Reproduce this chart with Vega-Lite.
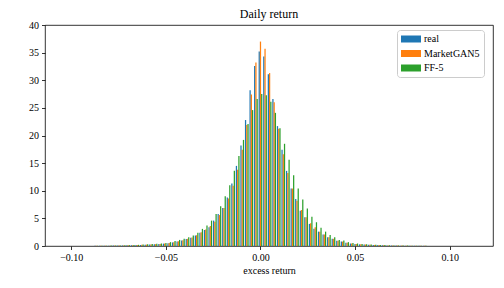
{
  "$schema": "https://vega.github.io/schema/vega-lite/v6.json",
  "width": 448,
  "height": 221,
  "autosize": "none",
  "padding": {"left": 45, "top": 25, "right": 11, "bottom": 42},
  "background": "white",
  "title": {"text": "Daily return", "font": "Liberation Serif", "fontSize": 12, "fontWeight": "normal", "color": "black", "offset": -1, "anchor": "middle"},
  "config": {"view": {"stroke": "black", "strokeWidth": 0.8}, "font": "Liberation Serif"},
  "data": {"values": [
    {"ret": -0.08676, "model": "real", "density": 0.03}, {"ret": -0.08676, "model": "MarketGAN5", "density": 0.03}, {"ret": -0.08676, "model": "FF-5", "density": 0.04},
    {"ret": -0.08435, "model": "real", "density": 0.04}, {"ret": -0.08435, "model": "MarketGAN5", "density": 0.04}, {"ret": -0.08435, "model": "FF-5", "density": 0.05},
    {"ret": -0.08194, "model": "real", "density": 0.05}, {"ret": -0.08194, "model": "MarketGAN5", "density": 0.05}, {"ret": -0.08194, "model": "FF-5", "density": 0.06},
    {"ret": -0.07953, "model": "real", "density": 0.06}, {"ret": -0.07953, "model": "MarketGAN5", "density": 0.06}, {"ret": -0.07953, "model": "FF-5", "density": 0.07},
    {"ret": -0.07712, "model": "real", "density": 0.07}, {"ret": -0.07712, "model": "MarketGAN5", "density": 0.07}, {"ret": -0.07712, "model": "FF-5", "density": 0.09},
    {"ret": -0.07471, "model": "real", "density": 0.08}, {"ret": -0.07471, "model": "MarketGAN5", "density": 0.09}, {"ret": -0.07471, "model": "FF-5", "density": 0.11},
    {"ret": -0.0723, "model": "real", "density": 0.1}, {"ret": -0.0723, "model": "MarketGAN5", "density": 0.1}, {"ret": -0.0723, "model": "FF-5", "density": 0.13},
    {"ret": -0.06989, "model": "real", "density": 0.12}, {"ret": -0.06989, "model": "MarketGAN5", "density": 0.12}, {"ret": -0.06989, "model": "FF-5", "density": 0.15},
    {"ret": -0.06748, "model": "real", "density": 0.14}, {"ret": -0.06748, "model": "MarketGAN5", "density": 0.15}, {"ret": -0.06748, "model": "FF-5", "density": 0.18},
    {"ret": -0.06507, "model": "real", "density": 0.17}, {"ret": -0.06507, "model": "MarketGAN5", "density": 0.18}, {"ret": -0.06507, "model": "FF-5", "density": 0.21},
    {"ret": -0.06266, "model": "real", "density": 0.2}, {"ret": -0.06266, "model": "MarketGAN5", "density": 0.21}, {"ret": -0.06266, "model": "FF-5", "density": 0.25},
    {"ret": -0.06025, "model": "real", "density": 0.24}, {"ret": -0.06025, "model": "MarketGAN5", "density": 0.25}, {"ret": -0.06025, "model": "FF-5", "density": 0.3},
    {"ret": -0.05784, "model": "real", "density": 0.28}, {"ret": -0.05784, "model": "MarketGAN5", "density": 0.29}, {"ret": -0.05784, "model": "FF-5", "density": 0.35},
    {"ret": -0.05543, "model": "real", "density": 0.32}, {"ret": -0.05543, "model": "MarketGAN5", "density": 0.33}, {"ret": -0.05543, "model": "FF-5", "density": 0.4},
    {"ret": -0.05302, "model": "real", "density": 0.37}, {"ret": -0.05302, "model": "MarketGAN5", "density": 0.38}, {"ret": -0.05302, "model": "FF-5", "density": 0.46},
    {"ret": -0.05061, "model": "real", "density": 0.43}, {"ret": -0.05061, "model": "MarketGAN5", "density": 0.45}, {"ret": -0.05061, "model": "FF-5", "density": 0.55},
    {"ret": -0.0482, "model": "real", "density": 0.5}, {"ret": -0.0482, "model": "MarketGAN5", "density": 0.55}, {"ret": -0.0482, "model": "FF-5", "density": 0.7},
    {"ret": -0.04579, "model": "real", "density": 0.65}, {"ret": -0.04579, "model": "MarketGAN5", "density": 0.7}, {"ret": -0.04579, "model": "FF-5", "density": 0.9},
    {"ret": -0.04338, "model": "real", "density": 0.8}, {"ret": -0.04338, "model": "MarketGAN5", "density": 0.85}, {"ret": -0.04338, "model": "FF-5", "density": 1.1},
    {"ret": -0.04097, "model": "real", "density": 1.0}, {"ret": -0.04097, "model": "MarketGAN5", "density": 1.05}, {"ret": -0.04097, "model": "FF-5", "density": 1.3},
    {"ret": -0.03856, "model": "real", "density": 1.25}, {"ret": -0.03856, "model": "MarketGAN5", "density": 1.3}, {"ret": -0.03856, "model": "FF-5", "density": 1.6},
    {"ret": -0.03615, "model": "real", "density": 1.5}, {"ret": -0.03615, "model": "MarketGAN5", "density": 1.55}, {"ret": -0.03615, "model": "FF-5", "density": 1.9},
    {"ret": -0.03374, "model": "real", "density": 1.9}, {"ret": -0.03374, "model": "MarketGAN5", "density": 1.95}, {"ret": -0.03374, "model": "FF-5", "density": 2.4},
    {"ret": -0.03133, "model": "real", "density": 2.4}, {"ret": -0.03133, "model": "MarketGAN5", "density": 2.5}, {"ret": -0.03133, "model": "FF-5", "density": 3.1},
    {"ret": -0.02892, "model": "real", "density": 2.9}, {"ret": -0.02892, "model": "MarketGAN5", "density": 3.0}, {"ret": -0.02892, "model": "FF-5", "density": 3.7},
    {"ret": -0.02651, "model": "real", "density": 3.4}, {"ret": -0.02651, "model": "MarketGAN5", "density": 3.6}, {"ret": -0.02651, "model": "FF-5", "density": 4.6},
    {"ret": -0.0241, "model": "real", "density": 4.6}, {"ret": -0.0241, "model": "MarketGAN5", "density": 4.4}, {"ret": -0.0241, "model": "FF-5", "density": 5.8},
    {"ret": -0.02169, "model": "real", "density": 5.8}, {"ret": -0.02169, "model": "MarketGAN5", "density": 5.6}, {"ret": -0.02169, "model": "FF-5", "density": 7.2},
    {"ret": -0.01928, "model": "real", "density": 6.9}, {"ret": -0.01928, "model": "MarketGAN5", "density": 6.9}, {"ret": -0.01928, "model": "FF-5", "density": 9.0},
    {"ret": -0.01687, "model": "real", "density": 8.8}, {"ret": -0.01687, "model": "MarketGAN5", "density": 8.6}, {"ret": -0.01687, "model": "FF-5", "density": 11.0},
    {"ret": -0.01446, "model": "real", "density": 11.3}, {"ret": -0.01446, "model": "MarketGAN5", "density": 10.9}, {"ret": -0.01446, "model": "FF-5", "density": 13.6},
    {"ret": -0.01205, "model": "real", "density": 14.5}, {"ret": -0.01205, "model": "MarketGAN5", "density": 13.8}, {"ret": -0.01205, "model": "FF-5", "density": 16.3},
    {"ret": -0.00964, "model": "real", "density": 18.2}, {"ret": -0.00964, "model": "MarketGAN5", "density": 17.4}, {"ret": -0.00964, "model": "FF-5", "density": 19.2},
    {"ret": -0.00723, "model": "real", "density": 22.8}, {"ret": -0.00723, "model": "MarketGAN5", "density": 21.9}, {"ret": -0.00723, "model": "FF-5", "density": 22.1},
    {"ret": -0.00482, "model": "real", "density": 28.2}, {"ret": -0.00482, "model": "MarketGAN5", "density": 27.4}, {"ret": -0.00482, "model": "FF-5", "density": 24.6},
    {"ret": -0.00241, "model": "real", "density": 32.6}, {"ret": -0.00241, "model": "MarketGAN5", "density": 33.2}, {"ret": -0.00241, "model": "FF-5", "density": 26.6},
    {"ret": 0.0, "model": "real", "density": 35.2}, {"ret": 0.0, "model": "MarketGAN5", "density": 37.0}, {"ret": 0.0, "model": "FF-5", "density": 27.5},
    {"ret": 0.00241, "model": "real", "density": 34.3}, {"ret": 0.00241, "model": "MarketGAN5", "density": 35.7}, {"ret": 0.00241, "model": "FF-5", "density": 27.3},
    {"ret": 0.00482, "model": "real", "density": 31.1}, {"ret": 0.00482, "model": "MarketGAN5", "density": 31.3}, {"ret": 0.00482, "model": "FF-5", "density": 26.1},
    {"ret": 0.00723, "model": "real", "density": 26.6}, {"ret": 0.00723, "model": "MarketGAN5", "density": 26.0}, {"ret": 0.00723, "model": "FF-5", "density": 24.1},
    {"ret": 0.00964, "model": "real", "density": 21.7}, {"ret": 0.00964, "model": "MarketGAN5", "density": 21.2}, {"ret": 0.00964, "model": "FF-5", "density": 21.3},
    {"ret": 0.01205, "model": "real", "density": 17.4}, {"ret": 0.01205, "model": "MarketGAN5", "density": 16.6}, {"ret": 0.01205, "model": "FF-5", "density": 18.5},
    {"ret": 0.01446, "model": "real", "density": 13.6}, {"ret": 0.01446, "model": "MarketGAN5", "density": 13.2}, {"ret": 0.01446, "model": "FF-5", "density": 15.6},
    {"ret": 0.01687, "model": "real", "density": 10.4}, {"ret": 0.01687, "model": "MarketGAN5", "density": 10.4}, {"ret": 0.01687, "model": "FF-5", "density": 12.8},
    {"ret": 0.01928, "model": "real", "density": 8.5}, {"ret": 0.01928, "model": "MarketGAN5", "density": 8.2}, {"ret": 0.01928, "model": "FF-5", "density": 10.4},
    {"ret": 0.02169, "model": "real", "density": 6.4}, {"ret": 0.02169, "model": "MarketGAN5", "density": 6.5}, {"ret": 0.02169, "model": "FF-5", "density": 8.4},
    {"ret": 0.0241, "model": "real", "density": 5.2}, {"ret": 0.0241, "model": "MarketGAN5", "density": 5.2}, {"ret": 0.0241, "model": "FF-5", "density": 6.8},
    {"ret": 0.02651, "model": "real", "density": 4.0}, {"ret": 0.02651, "model": "MarketGAN5", "density": 4.1}, {"ret": 0.02651, "model": "FF-5", "density": 5.3},
    {"ret": 0.02892, "model": "real", "density": 3.1}, {"ret": 0.02892, "model": "MarketGAN5", "density": 3.4}, {"ret": 0.02892, "model": "FF-5", "density": 4.3},
    {"ret": 0.03133, "model": "real", "density": 2.6}, {"ret": 0.03133, "model": "MarketGAN5", "density": 2.6}, {"ret": 0.03133, "model": "FF-5", "density": 3.3},
    {"ret": 0.03374, "model": "real", "density": 2.1}, {"ret": 0.03374, "model": "MarketGAN5", "density": 2.1}, {"ret": 0.03374, "model": "FF-5", "density": 2.6},
    {"ret": 0.03615, "model": "real", "density": 1.6}, {"ret": 0.03615, "model": "MarketGAN5", "density": 1.6}, {"ret": 0.03615, "model": "FF-5", "density": 2.0},
    {"ret": 0.03856, "model": "real", "density": 1.3}, {"ret": 0.03856, "model": "MarketGAN5", "density": 1.3}, {"ret": 0.03856, "model": "FF-5", "density": 1.6},
    {"ret": 0.04097, "model": "real", "density": 0.95}, {"ret": 0.04097, "model": "MarketGAN5", "density": 0.95}, {"ret": 0.04097, "model": "FF-5", "density": 1.1},
    {"ret": 0.04338, "model": "real", "density": 0.8}, {"ret": 0.04338, "model": "MarketGAN5", "density": 0.8}, {"ret": 0.04338, "model": "FF-5", "density": 1.0},
    {"ret": 0.04579, "model": "real", "density": 0.6}, {"ret": 0.04579, "model": "MarketGAN5", "density": 0.6}, {"ret": 0.04579, "model": "FF-5", "density": 0.7},
    {"ret": 0.0482, "model": "real", "density": 0.45}, {"ret": 0.0482, "model": "MarketGAN5", "density": 0.45}, {"ret": 0.0482, "model": "FF-5", "density": 0.55},
    {"ret": 0.05061, "model": "real", "density": 0.38}, {"ret": 0.05061, "model": "MarketGAN5", "density": 0.38}, {"ret": 0.05061, "model": "FF-5", "density": 0.45},
    {"ret": 0.05302, "model": "real", "density": 0.3}, {"ret": 0.05302, "model": "MarketGAN5", "density": 0.3}, {"ret": 0.05302, "model": "FF-5", "density": 0.37},
    {"ret": 0.05543, "model": "real", "density": 0.26}, {"ret": 0.05543, "model": "MarketGAN5", "density": 0.27}, {"ret": 0.05543, "model": "FF-5", "density": 0.32},
    {"ret": 0.05784, "model": "real", "density": 0.22}, {"ret": 0.05784, "model": "MarketGAN5", "density": 0.23}, {"ret": 0.05784, "model": "FF-5", "density": 0.27},
    {"ret": 0.06025, "model": "real", "density": 0.19}, {"ret": 0.06025, "model": "MarketGAN5", "density": 0.19}, {"ret": 0.06025, "model": "FF-5", "density": 0.23},
    {"ret": 0.06266, "model": "real", "density": 0.16}, {"ret": 0.06266, "model": "MarketGAN5", "density": 0.16}, {"ret": 0.06266, "model": "FF-5", "density": 0.19},
    {"ret": 0.06507, "model": "real", "density": 0.13}, {"ret": 0.06507, "model": "MarketGAN5", "density": 0.13}, {"ret": 0.06507, "model": "FF-5", "density": 0.16},
    {"ret": 0.06748, "model": "real", "density": 0.11}, {"ret": 0.06748, "model": "MarketGAN5", "density": 0.11}, {"ret": 0.06748, "model": "FF-5", "density": 0.13},
    {"ret": 0.06989, "model": "real", "density": 0.09}, {"ret": 0.06989, "model": "MarketGAN5", "density": 0.09}, {"ret": 0.06989, "model": "FF-5", "density": 0.11},
    {"ret": 0.0723, "model": "real", "density": 0.08}, {"ret": 0.0723, "model": "MarketGAN5", "density": 0.08}, {"ret": 0.0723, "model": "FF-5", "density": 0.09},
    {"ret": 0.07471, "model": "real", "density": 0.06}, {"ret": 0.07471, "model": "MarketGAN5", "density": 0.07}, {"ret": 0.07471, "model": "FF-5", "density": 0.08},
    {"ret": 0.07712, "model": "real", "density": 0.05}, {"ret": 0.07712, "model": "MarketGAN5", "density": 0.06}, {"ret": 0.07712, "model": "FF-5", "density": 0.07},
    {"ret": 0.07953, "model": "real", "density": 0.05}, {"ret": 0.07953, "model": "MarketGAN5", "density": 0.05}, {"ret": 0.07953, "model": "FF-5", "density": 0.06},
    {"ret": 0.08194, "model": "real", "density": 0.04}, {"ret": 0.08194, "model": "MarketGAN5", "density": 0.04}, {"ret": 0.08194, "model": "FF-5", "density": 0.05},
    {"ret": 0.08435, "model": "real", "density": 0.03}, {"ret": 0.08435, "model": "MarketGAN5", "density": 0.03}, {"ret": 0.08435, "model": "FF-5", "density": 0.04},
    {"ret": 0.08676, "model": "real", "density": 0.03}, {"ret": 0.08676, "model": "MarketGAN5", "density": 0.03}, {"ret": 0.08676, "model": "FF-5", "density": 0.03}
  ]},
  "encoding": {
    "x": {
      "field": "ret", "type": "quantitative", "title": "excess return",
      "scale": {"domain": [-0.1112, 0.1202], "nice": false, "zero": false},
      "axis": {"values": [-0.1, -0.05, 0, 0.05, 0.1], "format": ".2f", "labelExpr": "replace(datum.label, '-', '\u2212')", "grid": false, "domain": false, "tickColor": "black", "tickSize": 3.5, "tickWidth": 0.8, "labelColor": "black", "labelFontSize": 10, "labelFont": "Liberation Serif", "labelPadding": 3, "titleFont": "Liberation Serif", "titleFontSize": 10, "titleFontWeight": "normal", "titleColor": "black", "titlePadding": 3}
    },
    "y": {
      "field": "density", "type": "quantitative", "title": null,
      "scale": {"domain": [0, 40], "nice": false},
      "axis": {"values": [0, 5, 10, 15, 20, 25, 30, 35, 40], "grid": false, "domain": false, "tickColor": "black", "tickSize": 3.5, "tickWidth": 0.8, "labelColor": "black", "labelFontSize": 10, "labelFont": "Liberation Serif", "labelPadding": 3}
    },
    "color": {
      "field": "model", "type": "nominal",
      "scale": {"domain": ["real", "MarketGAN5", "FF-5"], "range": ["#1f77b4", "#ff7f0e", "#2ca02c"]},
      "legend": {"orient": "none", "legendX": 352, "legendY": 5, "title": null, "strokeColor": "#cccccc", "fillColor": "white", "cornerRadius": 3, "padding": 4, "symbolType": "M-2,-0.7H2V0.7H-2Z", "symbolSize": 100, "symbolOffset": 5, "symbolStrokeWidth": 0, "symbolOpacity": 1, "labelFont": "Liberation Serif", "labelFontSize": 10, "labelColor": "black", "labelOffset": 8, "rowPadding": 4.5}
    }
  },
  "layer": [
    {"transform": [{"filter": "datum.model === 'real'"}], "mark": {"type": "bar", "width": 1.245, "xOffset": -1.245}},
    {"transform": [{"filter": "datum.model === 'MarketGAN5'"}], "mark": {"type": "bar", "width": 1.245}},
    {"transform": [{"filter": "datum.model === 'FF-5'"}], "mark": {"type": "bar", "width": 1.245, "xOffset": 1.245}}
  ]
}
